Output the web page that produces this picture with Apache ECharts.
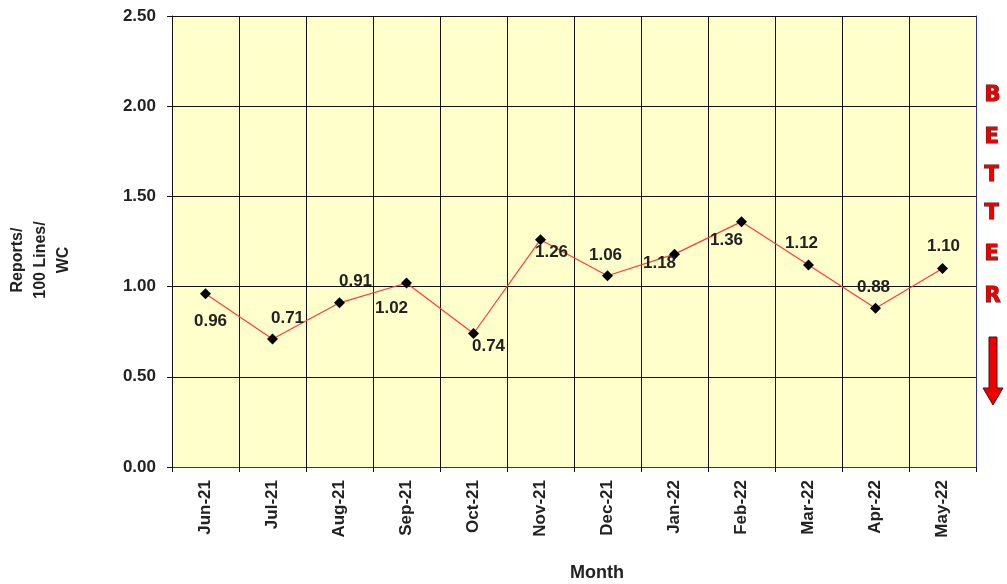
<!DOCTYPE html>
<html>
<head>
<meta charset="utf-8">
<script src="https://cdn.jsdelivr.net/npm/echarts@6/dist/echarts.min.js"></script>
<style>
  html, body { margin: 0; padding: 0; background: #fff; }
  #chart { width: 1007px; height: 584px; }
</style>
</head>
<body>
<div id="chart"></div>
<script>
// data
var months = ['Jun-21', 'Jul-21', 'Aug-21', 'Sep-21', 'Oct-21', 'Nov-21',
              'Dec-21', 'Jan-22', 'Feb-22', 'Mar-22', 'Apr-22', 'May-22'];
var reports = [0.96, 0.71, 0.91, 1.02, 0.74, 1.26, 1.06, 1.18, 1.36, 1.12, 0.88, 1.10];
var betterLetters = ['B', 'E', 'T', 'T', 'E', 'R'];

// where each value label sits relative to its point (px)
var labelShift = [
  [5, 27], [15, -21], [16, -22], [-15, 25], [15, 13], [11, 13],
  [-2, -20], [-15, 9], [-15, 19], [-7, -22], [-2, -21], [1, -22]
];

var chart = echarts.init(document.getElementById('chart'));
var FONT = 'Liberation Sans, Arial';
var bold = { fontFamily: FONT, fontWeight: 'bold', fontSize: 17, color: '#222' };

var graphics = [];
// y axis title, reads bottom to top
graphics.push({
  type: 'text', x: 41, y: 260, rotation: Math.PI / 2,
  style: {
    text: 'Reports/\n100 Lines/\nWC', align: 'center', verticalAlign: 'middle',
    font: 'bold 16px "Liberation Sans"', fill: '#222', lineHeight: 23
  }
});
// x axis title sits a bit right of the plot centre
graphics.push({
  type: 'text', x: 597, y: 573,
  style: {
    text: 'Month', align: 'center', verticalAlign: 'middle',
    font: 'bold 18px "Liberation Sans"', fill: '#222'
  }
});
var letterY = [97, 139, 177, 215, 256, 298];
betterLetters.forEach(function (ch, i) {
  graphics.push({
    type: 'text', left: 984, top: letterY[i] - 12,
    style: {
      text: ch, fill: '#ee0000', stroke: '#441111', lineWidth: 1,
      font: 'bold 21px "DejaVu Sans"'
    }
  });
});
graphics.push({
  type: 'polygon',
  shape: { points: [[989, 337], [997, 337], [997, 388], [1003, 388], [993, 405], [983, 388], [989, 388]] },
  style: { fill: '#ee0000', stroke: '#441111', lineWidth: 1 }
});

chart.setOption({
  animation: false,
  grid: {
    left: 172, top: 16, right: 31, bottom: 117,
    outerBoundsMode: 'none', containLabel: false,
    show: true, backgroundColor: '#FFFFCC', borderWidth: 0
  },
  xAxis: [{
    type: 'category',
    data: months,
    boundaryGap: true,
    axisLine: { lineStyle: { color: '#111', width: 1 } },
    axisTick: { show: true, interval: 0, length: 5, lineStyle: { color: '#111' } },
    axisLabel: Object.assign({ rotate: 90, interval: 0, margin: 13 }, bold),
    splitLine: { show: true, interval: 0, lineStyle: { color: '#111', width: 1 } }
  }, {
    type: 'category',
    data: months,
    position: 'top',
    axisLine: { show: true, lineStyle: { color: '#2a2aa8', width: 1 } },
    axisTick: { show: false },
    axisLabel: { show: false },
    splitLine: { show: false }
  }],
  yAxis: [{
    type: 'value',
    min: 0, max: 2.5, interval: 0.5,
    axisLine: { show: true, lineStyle: { color: '#111', width: 1 } },
    axisTick: { show: true, length: 5, lineStyle: { color: '#111' } },
    axisLabel: Object.assign({ margin: 16, formatter: function (v) { return v.toFixed(2); } }, bold),
    splitLine: { show: true, lineStyle: { color: '#111', width: 1 } }
  }, {
    type: 'value',
    min: 0, max: 2.5, interval: 0.5,
    position: 'right',
    axisLine: { show: true, lineStyle: { color: '#2a2aa8', width: 1 } },
    axisTick: { show: false },
    axisLabel: { show: false },
    splitLine: { show: false }
  }],
  series: [{
    type: 'line',
    xAxisIndex: 0,
    yAxisIndex: 0,
    data: reports.map(function (v, i) {
      return {
        value: v,
        label: { offset: labelShift[i] }
      };
    }),
    symbol: 'diamond',
    symbolSize: 11,
    itemStyle: { color: '#000' },
    lineStyle: { color: '#ff3b3b', width: 1.2 },
    label: Object.assign({
      show: true, position: 'inside',
      formatter: function (p) { return p.value.toFixed(2); }
    }, bold),
    z: 5
  }],
  graphic: graphics
});
</script>
</body>
</html>
